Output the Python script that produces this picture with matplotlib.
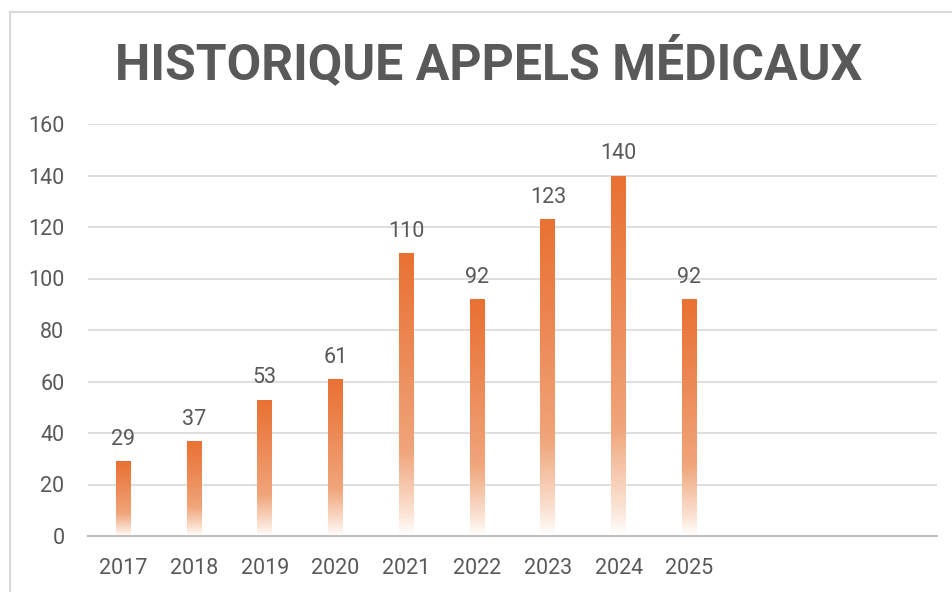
import numpy as np
import matplotlib
matplotlib.use("Agg")
import matplotlib.pyplot as plt
from matplotlib.colors import LinearSegmentedColormap
from matplotlib.patches import Rectangle

# Data
categories = ["2017", "2018", "2019", "2020", "2021", "2022", "2023", "2024", "2025", "", "", ""]
values = [29, 37, 53, 61, 110, 92, 123, 140, 92, np.nan, np.nan, np.nan]
yticks = [0, 20, 40, 60, 80, 100, 120, 140, 160]
title = "HISTORIQUE APPELS MÉDICAUX"

plt.rcParams['font.family'] = ['Roboto', 'DejaVu Sans']

fig = plt.figure(figsize=(9.53, 5.92), dpi=100)
ax = fig.add_axes([88/953, 56/592, (937-88)/953, (536-124)/592])

x = np.arange(len(categories))
vals = np.array(values, dtype=float)
bars = ax.bar(x, np.nan_to_num(vals), width=0.21, color='none', edgecolor='none', zorder=3)

cmap = LinearSegmentedColormap.from_list(
    "grad", [(0.0, "#FFFFFF"), (0.08, "#FBE3D4"), (0.3, "#F0A57A"), (0.7, "#EC8550"), (1.0, "#E97132")])
grad = np.linspace(0, 1, 256).reshape(-1, 1)
for b, v in zip(bars, vals):
    if np.isnan(v):
        continue
    x0 = b.get_x()
    w = b.get_width()
    im = ax.imshow(grad, extent=[x0, x0 + w, 0, v], origin='lower', aspect='auto',
                   cmap=cmap, zorder=3, interpolation='bilinear')
    im.set_clip_path(b)
    ax.annotate(f"{int(v)}", (b.get_x() + w / 2, v), xytext=(0, 8), textcoords='offset points',
                ha='center', va='bottom', fontsize=15.5, color='#595959')

ax.set_xlim(-0.5, len(categories) - 0.5)
ax.set_ylim(0, 160)
ax.set_yticks(yticks)
ax.set_xticks(x)
ax.set_xticklabels(categories)
ax.tick_params(axis='both', length=0, labelsize=15.5, labelcolor='#595959')
ax.tick_params(axis='y', pad=17)
ax.tick_params(axis='x', pad=16)
ax.yaxis.grid(True, color='#D9D9D9', linewidth=1.2, zorder=0)
ax.set_axisbelow(True)
for s in ['top', 'right', 'left']:
    ax.spines[s].set_visible(False)
ax.spines['bottom'].set_color('#BFBFBF')
ax.spines['bottom'].set_linewidth(1.5)
ax.spines['bottom'].set_zorder(4)

fig.text(489/953, 1 - 63/592, title, ha='center', va='center', fontsize=36,
         fontweight='bold', color='#595959')

# chart border
fig.patches.append(Rectangle((10/953, -0.1), 1.1, 1 - 12/592 + 0.1, transform=fig.transFigure,
                             fill=False, edgecolor='#D9D9D9', linewidth=1.5))

fig.savefig("out.png", dpi=100)
